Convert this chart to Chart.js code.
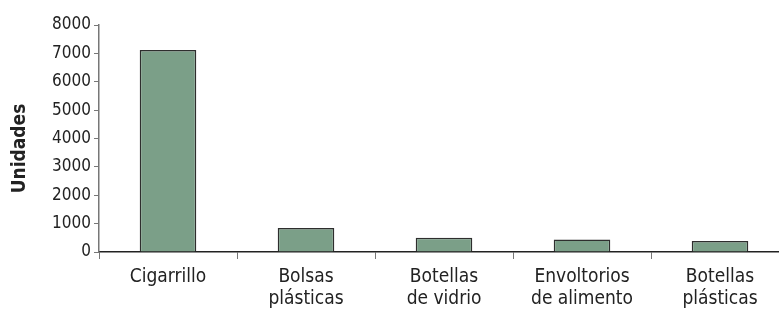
<!DOCTYPE html>
<html>
<head>
<meta charset="utf-8">
<script src="https://cdn.jsdelivr.net/npm/chart.js@4/dist/chart.umd.min.js"></script>
<style>
  html, body { margin: 0; padding: 0; background: #fff; overflow: hidden; }
  #wrap { position: relative; width: 790px; height: 312px; }
</style>
</head>
<body>
<div id="wrap"><canvas id="chart"></canvas></div>
<script>
// categorías (etiquetas en dos líneas)
const categories = [
    ["Cigarrillo"],
    ["Bolsas", "plásticas"],
    ["Botellas", "de vidrio"],
    ["Envoltorios", "de alimento"],
    ["Botellas", "plásticas"]
];
// unidades recolectadas
const unidades = [7120, 850, 500, 440, 390];
// eje Y
const yMax = 8000;
const yStep = 1000;

const fontNarrow = "'DejaVu Sans Condensed', 'Liberation Sans Narrow', sans-serif";

// título del eje Y, un poco más abajo que el centro del área
const yTitlePlugin = {
    id: "yTitle",
    afterDraw(chart) {
        const { ctx, chartArea } = chart;
        ctx.save();
        ctx.translate(20, (chartArea.top + chartArea.bottom) / 2 + 10);
        ctx.rotate(-Math.PI / 2);
        ctx.font = "bold 19px " + fontNarrow;
        ctx.fillStyle = "#222";
        ctx.textAlign = "center";
        ctx.textBaseline = "middle";
        ctx.fillText("Unidades", 0, 0);
        ctx.restore();
    }
};

new Chart(document.getElementById("chart"), {
    type: "bar",
    data: {
        labels: categories,
        datasets: [
            {
                label: "Unidades",
                data: unidades,
                backgroundColor: "#7b9f88",
                borderColor: "#2e2e2e",
                borderWidth: 1.5,
                categoryPercentage: 1,
                barPercentage: 0.41
            }
        ]
    },
    options: {
        responsive: true,
        maintainAspectRatio: false,
        animation: false,
        layout: {
            padding: { top: 25, left: 0, right: 1, bottom: 0 }
        },
        plugins: {
            legend: { display: false },
            tooltip: { enabled: false }
        },
        scales: {
            x: {
                grid: {
                    drawOnChartArea: false,
                    offset: true,
                    tickLength: 7,
                    color: "#777"
                },
                border: { color: "#222", width: 1.5 },
                ticks: {
                    color: "#222",
                    padding: 7,
                    maxRotation: 0,
                    font: { family: fontNarrow, size: 19, lineHeight: 1.16 }
                },
                afterFit(scale) {
                    scale.height = 60;
                }
            },
            y: {
                min: 0,
                max: yMax,
                ticks: {
                    stepSize: yStep,
                    color: "#222",
                    padding: 3,
                    font: { family: fontNarrow, size: 17 },
                    callback: (v) => String(v)
                },
                grid: {
                    drawOnChartArea: false,
                    tickLength: 5,
                    color: "#777"
                },
                border: { color: "#777", width: 1.5 },
                afterFit(scale) {
                    scale.width = 99;
                }
            }
        }
    },
    plugins: [yTitlePlugin]
});
</script>
</body>
</html>
